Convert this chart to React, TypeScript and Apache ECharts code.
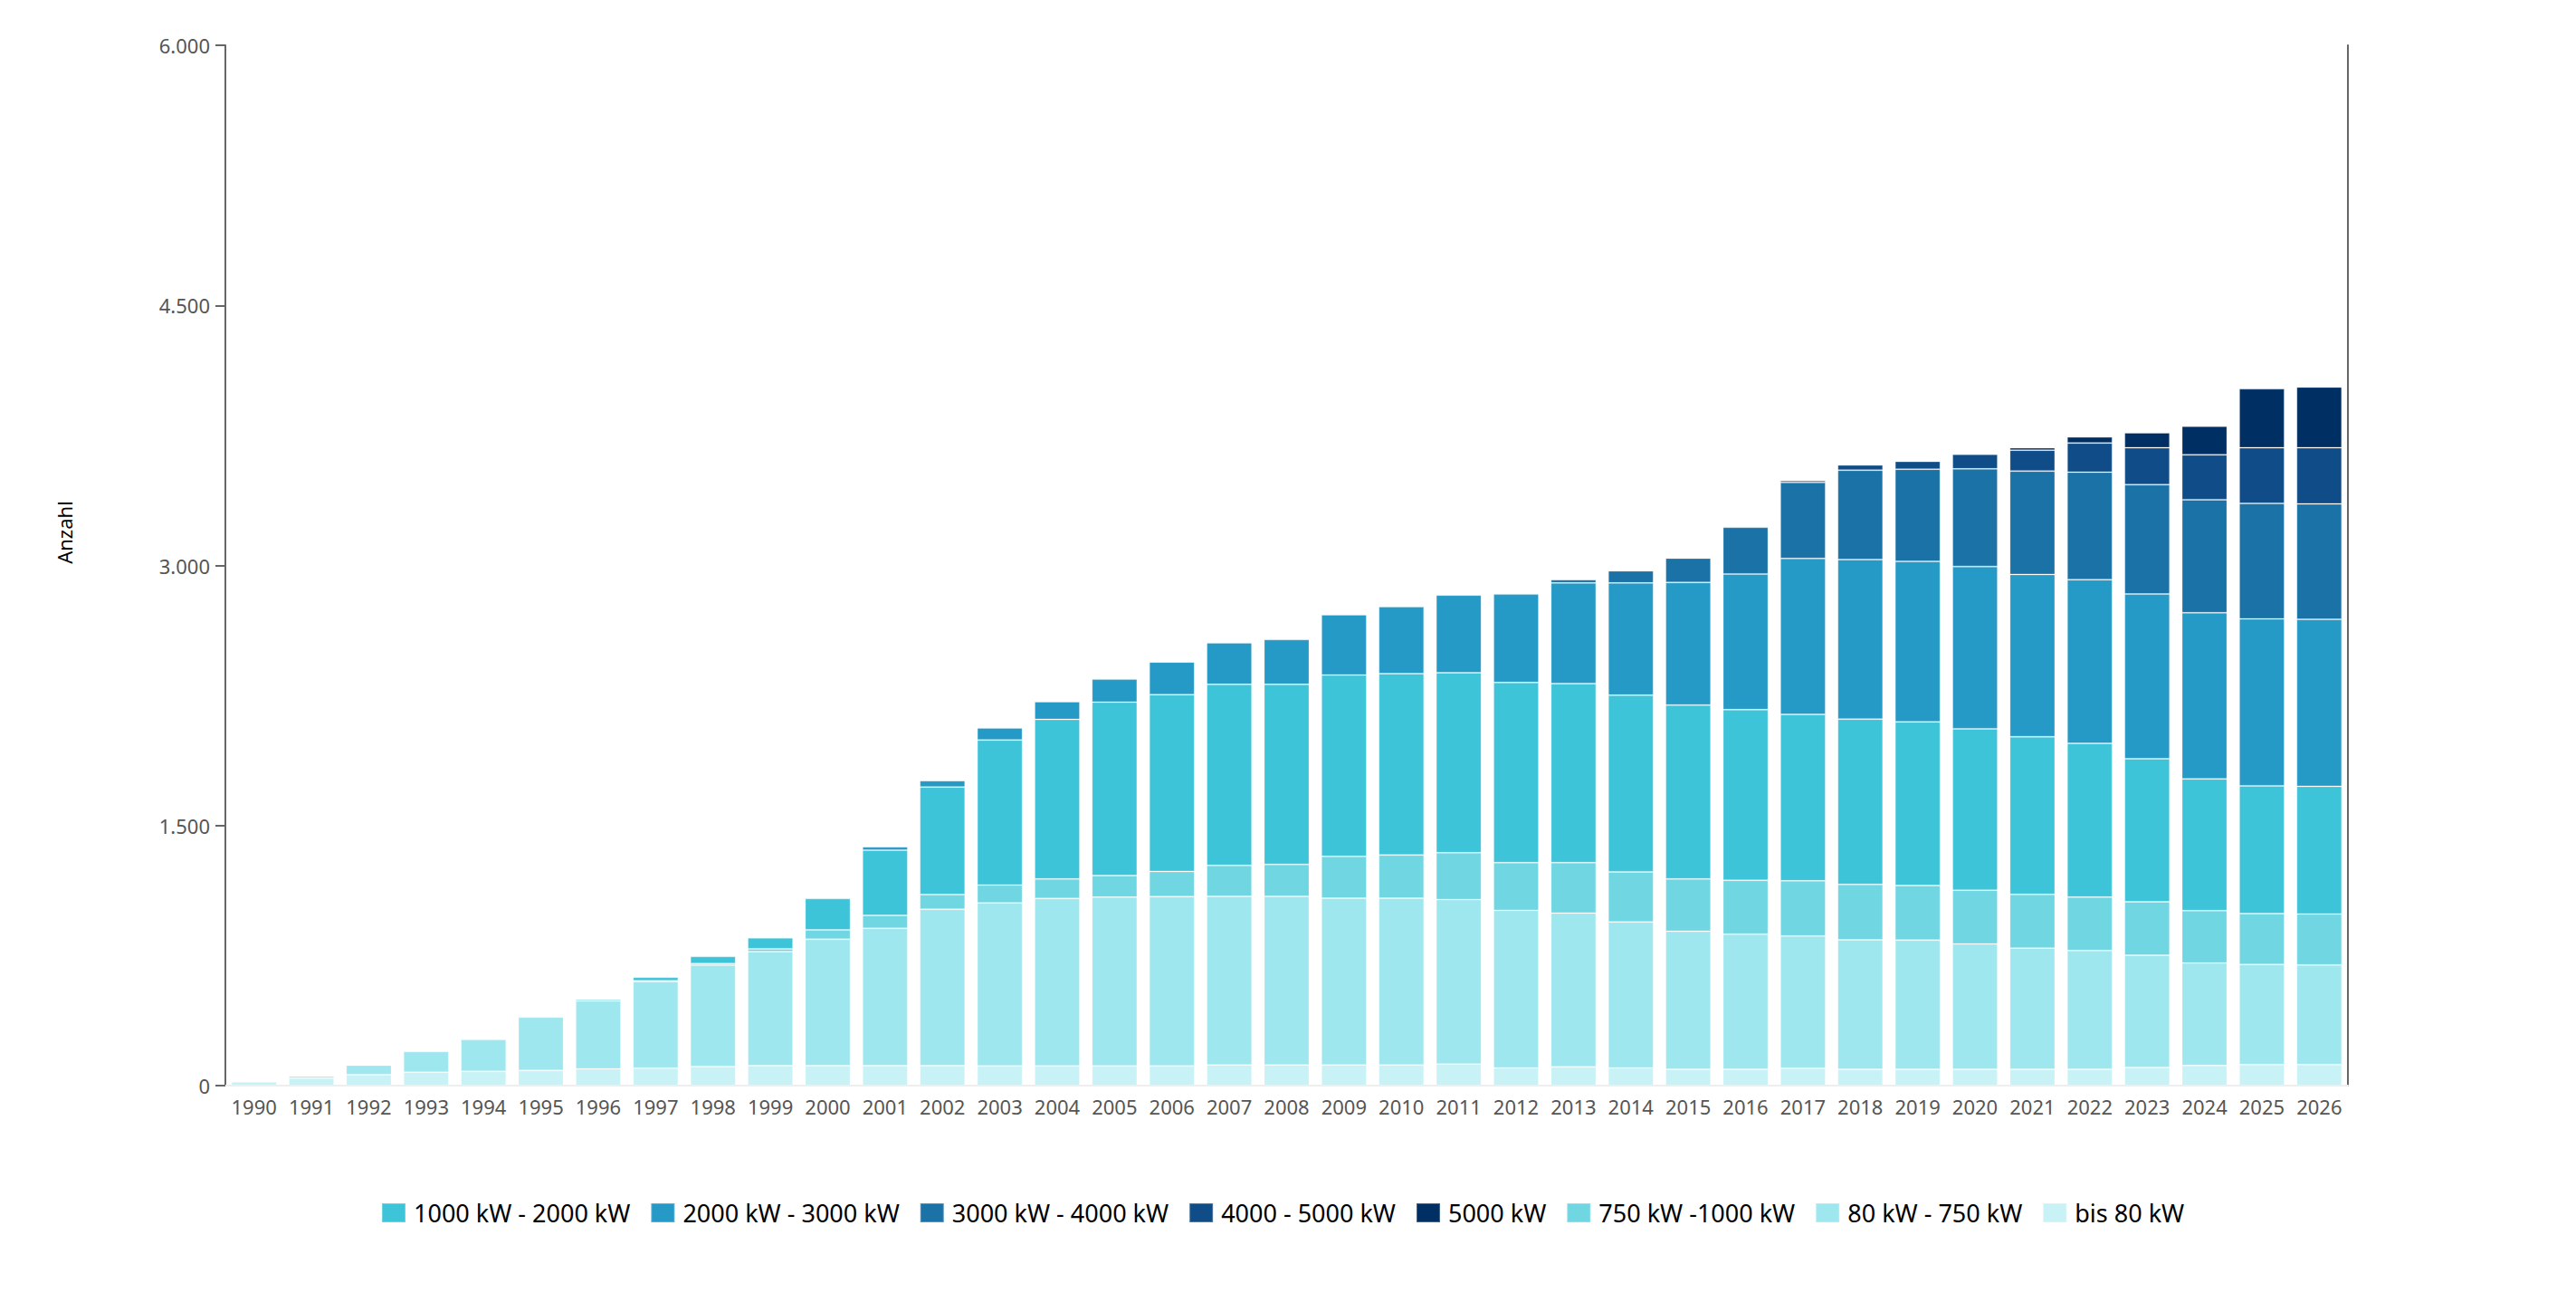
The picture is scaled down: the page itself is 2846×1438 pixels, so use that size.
import React, { useEffect, useRef } from "react";
import * as echarts from "echarts";

const years = [
  "1990","1991","1992","1993","1994","1995","1996","1997","1998","1999",
  "2000","2001","2002","2003","2004","2005","2006","2007","2008","2009",
  "2010","2011","2012","2013","2014","2015","2016","2017","2018","2019",
  "2020","2021","2022","2023","2024","2025","2026",
];

const bis80 = [22,43,63,77,82,87,97,101,110,115,115,115,115,113,113,113,113,119,119,119,119,124,102,108,102,94,94,100,94,94,94,94,94,105,116,121,121];
const kw80_750 = [0,12,55,120,184,308,392,499,585,658,729,792,902,941,966,974,977,973,973,962,962,949,909,887,842,796,780,763,747,745,723,699,685,647,591,578,575];
const kw750_1000 = [0,0,0,0,0,0,10,5,9,16,54,75,85,103,113,124,145,178,184,241,249,270,275,291,289,302,310,318,319,315,310,310,308,308,302,293,294];
const kw1000_2000 = [0,0,0,0,0,0,0,20,41,63,181,376,620,836,920,1001,1020,1044,1038,1046,1046,1038,1039,1033,1019,1003,984,960,954,944,931,909,887,825,760,737,736];
const kw2000_3000 = [0,0,0,0,0,0,0,0,0,0,0,19,37,70,102,132,188,240,259,348,386,448,510,580,647,707,783,899,920,925,936,936,944,950,958,963,963];
const kw3000_4000 = [0,0,0,0,0,0,0,0,0,0,0,0,0,0,0,0,0,0,0,0,0,0,0,19,70,140,269,439,515,532,563,596,620,631,652,666,666];
const kw4000_5000 = [0,0,0,0,0,0,0,0,0,0,0,0,0,0,0,0,0,0,0,0,0,0,0,0,0,0,0,11,30,45,84,121,168,213,259,321,324];
const kw5000 = [0,0,0,0,0,0,0,0,0,0,0,0,0,0,0,0,0,0,0,0,0,0,0,0,0,0,0,0,0,0,0,14,35,86,165,340,350];

const yTicks = [0, 1500, 3000, 4500, 6000];

// stacking order, bottom to top
const stackNames = [
  "bis 80 kW",
  "80 kW - 750 kW",
  "750 kW -1000 kW",
  "1000 kW - 2000 kW",
  "2000 kW - 3000 kW",
  "3000 kW - 4000 kW",
  "4000 - 5000 kW",
  "5000 kW",
];
const stackData = [bis80, kw80_750, kw750_1000, kw1000_2000, kw2000_3000, kw3000_4000, kw4000_5000, kw5000];
const stackColors = ["#c8f2f6", "#9fe7ee", "#6fd6e2", "#3ec4d8", "#259ac6", "#1a72a6", "#104d88", "#003063"];

const legendOrder = [
  "1000 kW - 2000 kW",
  "2000 kW - 3000 kW",
  "3000 kW - 4000 kW",
  "4000 - 5000 kW",
  "5000 kW",
  "750 kW -1000 kW",
  "80 kW - 750 kW",
  "bis 80 kW",
];

const FONT = "'Noto Sans', 'Open Sans', sans-serif";

function fmt(v: number) {
  return String(v).replace(/\B(?=(\d{3})+(?!\d))/g, ".");
}

export default function App() {
  const ref = useRef<HTMLDivElement>(null);
  useEffect(() => {
    if (!ref.current) return;
    const chart = echarts.init(ref.current, undefined, { renderer: "svg" });
    chart.setOption({
      animation: false,
      textStyle: { fontFamily: FONT },
      grid: { left: 241, right: 244, top: 42, bottom: 231, containLabel: false },
      legend: {
        data: legendOrder,
        left: 408,
        top: 1313,
        itemWidth: 26,
        itemHeight: 21,
        itemGap: 22,
        icon: "rect",
        textStyle: { fontSize: 27, color: "#000", fontFamily: FONT, padding: [0, 0, 0, 4] },
      },
      xAxis: [
        {
          type: "category",
          data: years,
          axisLine: { lineStyle: { color: "#666", width: 2 } },
          axisTick: { alignWithLabel: true, length: 11, lineStyle: { color: "#666", width: 2 } },
          axisLabel: { fontSize: 22, color: "#555", margin: 12, fontFamily: FONT, interval: 0 },
        },
        {
          type: "category",
          data: years,
          position: "top",
          axisLine: { show: true, lineStyle: { color: "#eeeeee", width: 2 } },
          axisTick: { show: false },
          axisLabel: { show: false },
        },
      ],
      yAxis: [
        {
          type: "value",
          min: yTicks[0],
          max: yTicks[yTicks.length - 1],
          interval: yTicks[1] - yTicks[0],
          axisLine: { show: true, lineStyle: { color: "#666", width: 2 } },
          axisTick: { show: true, length: 11, lineStyle: { color: "#666", width: 2 } },
          axisLabel: { fontSize: 22, color: "#555", margin: 17, fontFamily: FONT, formatter: (v: number) => fmt(v) },
          splitLine: { show: false },
        },
        {
          type: "value",
          min: yTicks[0],
          max: yTicks[yTicks.length - 1],
          interval: yTicks[1] - yTicks[0],
          position: "right",
          axisLine: { show: true, lineStyle: { color: "#666", width: 2 } },
          axisTick: { show: false },
          axisLabel: { show: false },
          splitLine: { show: false },
        },
      ],
      graphic: [
        {
          type: "text",
          x: 63,
          y: 580,
          rotation: Math.PI / 2,
          style: {
            text: "Anzahl",
            fontSize: 22,
            fontFamily: FONT,
            fill: "#000",
            textAlign: "center",
            textVerticalAlign: "middle",
          },
        },
      ],
      series: stackNames.map((name, i) => ({
        name,
        type: "bar",
        stack: "total",
        barCategoryGap: "21%",
        itemStyle: {
          color: stackColors[i],
          borderColor: "rgba(255,255,255,0.25)",
          borderWidth: 1,
        },
        emphasis: { disabled: true },
        data: stackData[i].map((v) => (v === 0 ? "-" : v)),
      })),
    });
    return () => chart.dispose();
  }, []);
  return <div ref={ref} style={{ width: 2830, height: 1422 }} />;
}
